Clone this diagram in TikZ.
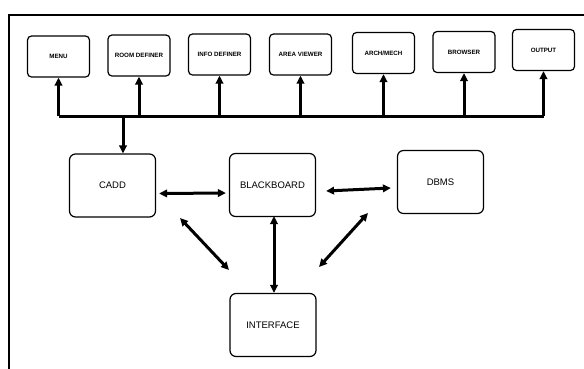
\documentclass[tikz,border=0pt]{standalone}
\usepackage{fontspec}
\setmainfont{Liberation Sans}
\usetikzlibrary{arrows.meta}

\begin{document}
\begin{tikzpicture}[
        x=1pt, y=-1pt,
        tool/.style={draw, line width=1.2pt, rounded corners=4pt, minimum width=62pt, minimum height=41pt, inner sep=1pt, font=\fontsize{6.2}{7}\selectfont\bfseries},
        module/.style={draw, line width=1.2pt, rounded corners=6pt, minimum width=86pt, minimum height=63pt, font=\fontsize{9.5}{11}\selectfont},
        link/.style={line width=3pt},
        uparrow/.style={link, -{Triangle[length=8pt, width=7.5pt]}},
        twoway/.style={link, {Triangle[length=8pt, width=7.5pt]}-{Triangle[length=8pt, width=7.5pt]}}
    ]

    \useasboundingbox (0,0) rectangle (584,368);
    \draw[line width=1.4pt] (9,15) rectangle (600,380);

    % tools along the top
    \node[tool] (menu)   at (58.5,56.5)  {MENU};
    \node[tool] (room)   at (139,55.5)   {ROOM DEFINER};
    \node[tool] (info)   at (219.5,54.5) {INFO DEFINER};
    \node[tool] (area)   at (300.5,54.5) {AREA VIEWER};
    \node[tool] (arch)   at (383.5,53)   {ARCH/MECH};
    \node[tool] (browse) at (464,52)     {BROWSER};
    \node[tool] (output) at (543.5,50)   {OUTPUT};

    % main modules
    \node[module] (cadd)  at (112.5,185.5) {CADD};
    \node[module] (board) at (272.5,185)   {BLACKBOARD};
    \node[module] (dbms)  at (440.5,182)   {DBMS};
    \node[module] (iface) at (273,325)     {INTERFACE};

    % bus to the tools
    \coordinate (bus) at (0,116);
    \coordinate (tap) at (123,116);
    \draw[link] (menu.south |- bus) -- (output.south |- bus);
    \foreach \t in {menu, room, info, area, arch, browse, output}
        \draw[uparrow] (\t.south |- bus) -- (\t.south);
    \draw[uparrow] (tap) -- (cadd.north -| tap);

    % links between modules
    \draw[twoway] ([xshift=3pt, yshift=-8pt]cadd.east) -- ([xshift=-3pt, yshift=-8pt]board.west);
    \draw[twoway] ([xshift=10pt, yshift=-6pt]board.east) -- ([xshift=-6pt, yshift=-6pt]dbms.west);
    \draw[twoway] ([xshift=1.5pt, yshift=1pt]board.south) -- ([xshift=1pt]iface.north);
    \draw[twoway] (180,218) -- (229,270);
    \draw[twoway] (368,213) -- (319,267);

\end{tikzpicture}
\end{document}
